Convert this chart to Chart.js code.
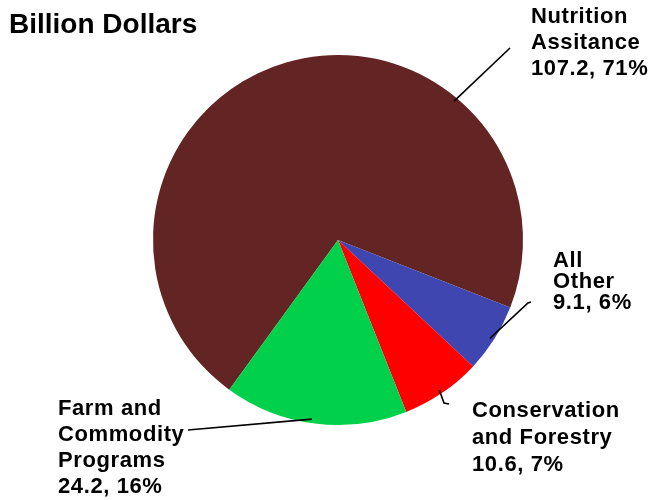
<!DOCTYPE html>
<html>
<head>
<meta charset="utf-8">
<script src="https://cdn.jsdelivr.net/npm/chart.js@4"></script>
<style>
  html, body { margin: 0; padding: 0; background: #fff; }
  #wrap { width: 649px; height: 500px; position: relative; }
</style>
</head>
<body>
<div id="wrap"><canvas id="budget-pie"></canvas></div>
<script>
// Spending by mission area, billion dollars
const categories = [
    ['Nutrition', 'Assitance'],
    ['All', 'Other'],
    ['Conservation', 'and Forestry'],
    ['Farm and', 'Commodity', 'Programs']
];
const values = [107.2, 9.1, 10.6, 24.2];
const sliceColors = ['#632523', '#4046b0', '#ff0000', '#00d04a'];

// Where each label sits and how its leader line bends
const labelSpots = [
    { x: 531, y: 23, lineH: 26, size: 22, along: 0.72, path: [[510, 48]] },
    { x: 553, y: 267, lineH: 21, size: 22, along: 0.53, path: [[528, 303], [531, 302]] },
    { x: 472, y: 417, lineH: 27, size: 22, along: 0.51, path: [[444, 403], [449, 404]] },
    { x: 58, y: 415, lineH: 26, size: 22, along: 0.52, path: [[188, 430]] }
];

const total = values.reduce((a, b) => a + b, 0);

// Title, leader lines and the value labels
const labelPlugin = {
    id: 'sliceLabels',
    afterDraw(chart) {
        const ctx = chart.ctx;
        ctx.save();
        ctx.fillStyle = '#000';
        ctx.font = 'bold 28px "Liberation Sans", Arial, sans-serif';
        ctx.textBaseline = 'alphabetic';
        ctx.fillText('Billion Dollars', 9, 33);

        const arcs = chart.getDatasetMeta(0).data;
        arcs.forEach((arc, i) => {
            const spot = labelSpots[i];
            const ang = arc.startAngle + (arc.endAngle - arc.startAngle) * spot.along;
            const r = arc.outerRadius - 4;
            ctx.strokeStyle = '#000';
            ctx.lineWidth = 1.6;
            ctx.beginPath();
            ctx.moveTo(arc.x + Math.cos(ang) * r, arc.y + Math.sin(ang) * r);
            spot.path.forEach(p => ctx.lineTo(p[0], p[1]));
            ctx.stroke();

            const pct = Math.round(values[i] / total * 100);
            const lines = categories[i].concat([values[i].toFixed(1) + ', ' + pct + '%']);
            ctx.font = 'bold ' + spot.size + 'px "Liberation Sans", Arial, sans-serif';
            ctx.letterSpacing = '0.6px';
            lines.forEach((t, k) => ctx.fillText(t, spot.x, spot.y + k * spot.lineH));
            ctx.letterSpacing = '0px';
        });
        ctx.restore();
    }
};

const ctx = document.getElementById('budget-pie').getContext('2d');
const budgetChart = new Chart(ctx, {
    type: 'pie',
    data: {
        labels: categories.map(c => c.join(' ')),
        datasets: [{
            data: values,
            backgroundColor: sliceColors,
            borderWidth: 0
        }]
    },
    options: {
        responsive: true,
        maintainAspectRatio: false,
        animation: false,
        rotation: 216,
        layout: {
            padding: { top: 55, bottom: 75, left: 153, right: 126 }
        },
        plugins: {
            legend: { display: false },
            tooltip: { enabled: false }
        }
    },
    plugins: [labelPlugin]
});
</script>
</body>
</html>
